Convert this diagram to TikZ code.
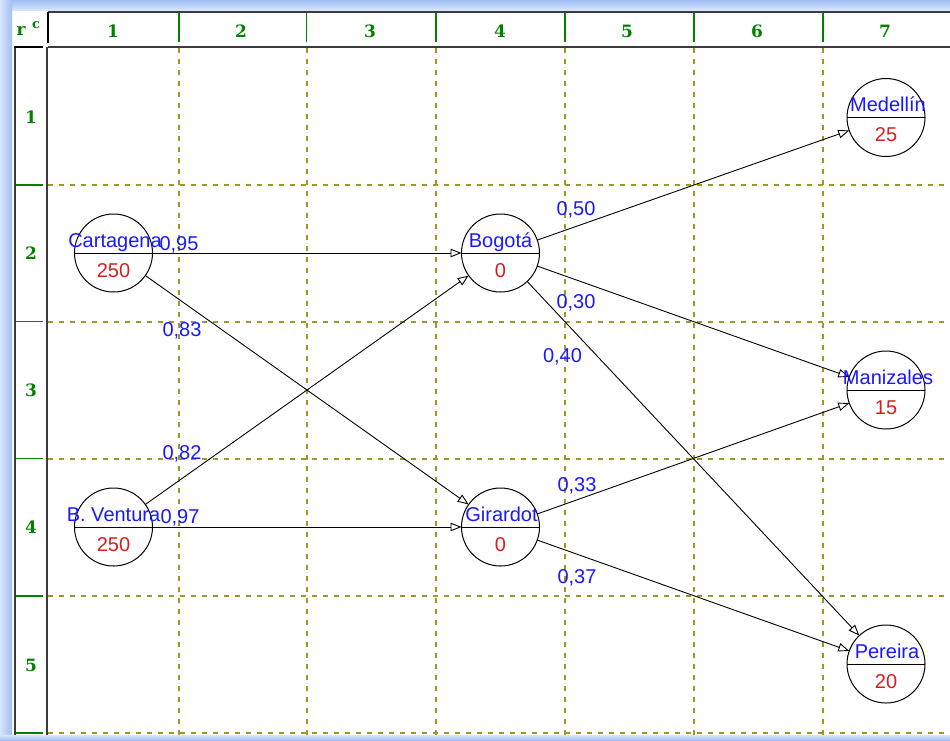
\documentclass[tikz,border=0pt]{standalone}
\usepackage{fontspec}
\setmainfont{Liberation Sans}
\newfontfamily\hdrfont{DejaVu Serif}
\usetikzlibrary{arrows.meta,calc}
\definecolor{gridc}{RGB}{155,155,35}
\definecolor{hdrgreen}{RGB}{0,130,0}
\definecolor{nameblue}{RGB}{25,25,255}
\definecolor{valred}{RGB}{215,30,30}
\definecolor{framea}{RGB}{215,228,252}
\definecolor{frameb}{RGB}{160,190,244}
\definecolor{rulec}{RGB}{60,60,60}
\begin{document}
\begin{tikzpicture}[x=1pt,y=-1pt,
  city/.style={circle, draw=black, fill=white, line width=1pt, minimum size=78pt, inner sep=0pt, outer sep=0pt},
  cname/.style={text=nameblue, font=\fontsize{20}{20}\selectfont, inner sep=0pt, anchor=base},
  cval/.style={text=valred, font=\fontsize{20}{20}\selectfont, inner sep=0pt, anchor=base},
  wlab/.style={text=nameblue, font=\fontsize{20}{20}\selectfont, inner sep=0pt, anchor=base},
  link/.style={-{Triangle[open,length=11pt,width=8.5pt]}, line width=0.9pt},
  gridline/.style={draw=gridc, line width=2pt, dash pattern=on 5pt off 6pt},
  hdr/.style={text=hdrgreen, font=\hdrfont\bfseries\fontsize{17}{17}\selectfont, inner sep=0pt},
  rule/.style={draw=rulec, line width=2pt},
  grule/.style={draw=hdrgreen, line width=1.4pt}]
\useasboundingbox (0,0) rectangle (950,740);
\fill[white] (0,0) rectangle (950,740);
% window frame
\shade[top color=frameb, bottom color=framea] (0,0) rectangle (950,10);
\shade[left color=framea, right color=frameb] (0,0) rectangle (12,740);
\shade[top color=framea, bottom color=frameb] (0,735) rectangle (950,740);
% grid
\foreach \x in {179,306.5,436,565,694,823} \draw[gridline] (\x,48) -- (\x,735);
\foreach \y in {185,321.5,458.5,596,733} \draw[gridline] (48,\y) -- (950,\y);
% column header
\draw[rule] (48,12) -- (950,12);
\draw[rule] (48,46.5) -- (950,46.5);
\draw[draw=black, line width=2.6pt] (48,12) -- (48,43);
\foreach \x in {179,306.5,436,565,694,823} \draw[grule] (\x,13) -- (\x,42);
\foreach \x/\t in {113/1,241/2,370/3,500/4,627/5,757/6,885/7}
  \node[hdr] (col\t) at (\x,31) {\t};
% row header
\draw[rule] (15,47) -- (15,735);
\draw[rule] (47,47) -- (47,735);
\draw[draw=black, line width=2.6pt] (14,47) -- (43,47);
\foreach \y in {185,321.5,458.5,596,733} \draw[grule] (16,\y) -- (43,\y);
\foreach \y/\t in {117/1,253/2,390/3,527/4,665/5}
  \node[hdr] (row\t) at (31,\y) {\t};
\node[hdr, font=\hdrfont\bfseries\fontsize{17}{17}\selectfont] (cornr) at (21,31) {r};
\node[hdr, font=\hdrfont\bfseries\fontsize{13}{13}\selectfont] (cornc) at (36,25) {c};
% cities
\node[city] (cart) at (113.5,253) {};
\node[city] (bven) at (113.5,527) {};
\node[city] (bog) at (500.5,253) {};
\node[city] (gir) at (500.5,527) {};
\node[city] (med) at (886,117.5) {};
\node[city] (man) at (886,390) {};
\node[city] (per) at (886,664) {};
\foreach \n in {cart,bven,bog,gir,med,man,per}
  \draw[line width=1pt] (\n.west) -- (\n.east);
% edges
\draw[link] (cart) -- (bog);
\draw[link] (cart) -- (gir);
\draw[link] (bven) -- (bog);
\draw[link] (bven) -- (gir);
\draw[link] (bog) -- (med);
\draw[link] (bog) -- (man);
\draw[link] (bog) -- (per);
\draw[link] (gir) -- (man);
\draw[link] (gir) -- (per);
% city texts
\node[cname] (cartN) at ($(cart)+(1.5,-6)$) {Cartagena};
\node[cval]  (cartV) at ($(cart)+(0,24)$) {250};
\node[cname] (bvenN) at ($(bven)+(0,-6)$) {B. Ventura};
\node[cval]  (bvenV) at ($(bven)+(0,24)$) {250};
\node[cname] (bogN) at ($(bog)+(0,-6)$) {Bogotá};
\node[cval]  (bogV) at ($(bog)+(0,24)$) {0};
\node[cname] (girN) at ($(gir)+(1,-6)$) {Girardot};
\node[cval]  (girV) at ($(gir)+(0,24)$) {0};
\node[cname] (medN) at ($(med)+(2,-6)$) {Medellín};
\node[cval]  (medV) at ($(med)+(0,24)$) {25};
\node[cname] (manN) at ($(man)+(2,-6)$) {Manizales};
\node[cval]  (manV) at ($(man)+(0,24)$) {15};
\node[cname] (perN) at ($(per)+(1,-6)$) {Pereira};
\node[cval]  (perV) at ($(per)+(0,24)$) {20};
% weights
\node[wlab] (w1) at (179,250) {0,95};
\node[wlab] (w2) at (182,336) {0,83};
\node[wlab] (w3) at (182,459) {0,82};
\node[wlab] (w4) at (180,523) {0,97};
\node[wlab] (w5) at (576,215) {0,50};
\node[wlab] (w6) at (576,308) {0,30};
\node[wlab] (w7) at (562.5,362) {0,40};
\node[wlab] (w8) at (577,491) {0,33};
\node[wlab] (w9) at (577,583) {0,37};
\end{tikzpicture}
\end{document}
